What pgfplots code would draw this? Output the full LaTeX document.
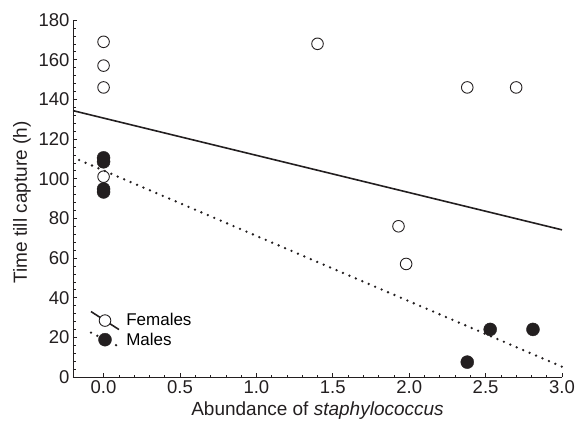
\documentclass[border=0pt]{standalone}
\usepackage{fontspec}
\setmainfont{Liberation Sans}
\usepackage{pgfplots}
\pgfplotsset{compat=1.18}

\definecolor{ink}{HTML}{231F20}

\begin{document}
\begin{tikzpicture}
\path[use as bounding box] (-73pt,-49pt) rectangle (502pt,377pt);
\begin{axis}[
    scale only axis,
    width=489pt, height=357pt,
    xmin=-0.2, xmax=3.0,
    ymin=0, ymax=180,
    xtick={0,0.5,...,3.0},
    ytick={0,20,...,180},
    minor x tick num=4,
    minor y tick num=4,
    xticklabel style={/pgf/number format/.cd,fixed,fixed zerofill,precision=1},
    /pgf/number format/assume math mode=true,
    tick label style={font=\fontsize{18.5}{20}\selectfont, color=ink},
    label style={font=\fontsize{19}{22}\selectfont, color=ink},
    axis lines*=left,
    axis line style={ink, line width=0.8pt},
    tick align=inside,
    major tick length=4pt,
    minor tick length=2.5pt,
    tick style={ink, line width=0.6pt},
    xlabel={Abundance of \textit{staphylococcus}},
    ylabel={Time till capture (h)},
    xlabel style={yshift=-1pt},
    ylabel style={yshift=1pt, xshift=-4pt},
    clip=false,
    legend style={at={(axis cs:-0.092,33.5)}, anchor=north west, draw=none, fill=none,
        font=\fontsize{17}{19}\selectfont, row sep=1pt, inner sep=0pt,
        nodes={inner xsep=6pt, inner ysep=0pt}},
    legend cell align=left,
]
% regression lines
\addplot[ink, line width=1.6pt, forget plot] coordinates {(-0.2,134.3) (3.0,74.2)};
\addplot[ink, line width=2.6pt, line cap=round, dash pattern=on 0pt off 7pt, forget plot]
    coordinates {(-0.16,109.4) (3.0,5.2)};
% females
\addplot[only marks, mark=o, mark size=5.8pt, mark options={ink, line width=0.9pt, fill=white}, forget plot]
coordinates {
    (0,169) (0,157) (0,146) (0,101)
    (1.40,168) (1.93,76) (1.98,57) (2.38,146) (2.70,146)
};
% males
\addplot[only marks, mark=*, mark size=6.5pt, mark options={ink, fill=ink}, forget plot]
coordinates {
    (0,110.5) (0,108.5) (0,94.8) (0,93.3)
    (2.38,7.5) (2.53,24) (2.81,24)
};
\addlegendimage{legend image code/.code={
    \draw[ink, line width=1.6pt] (-14pt,9pt) -- (14pt,-9pt);
    \draw[ink, line width=0.9pt, fill=white] (0pt,0pt) circle (5.8pt);}}
\addlegendentry{Females}
\addlegendimage{legend image code/.code={
    \draw[ink, line width=2.6pt, line cap=round, dash pattern=on 0pt off 7pt] (-14pt,7pt) -- (14pt,-7pt);
    \fill[ink] (0pt,0pt) circle (6.5pt);}}
\addlegendentry{Males}
\end{axis}
\end{tikzpicture}
\end{document}
